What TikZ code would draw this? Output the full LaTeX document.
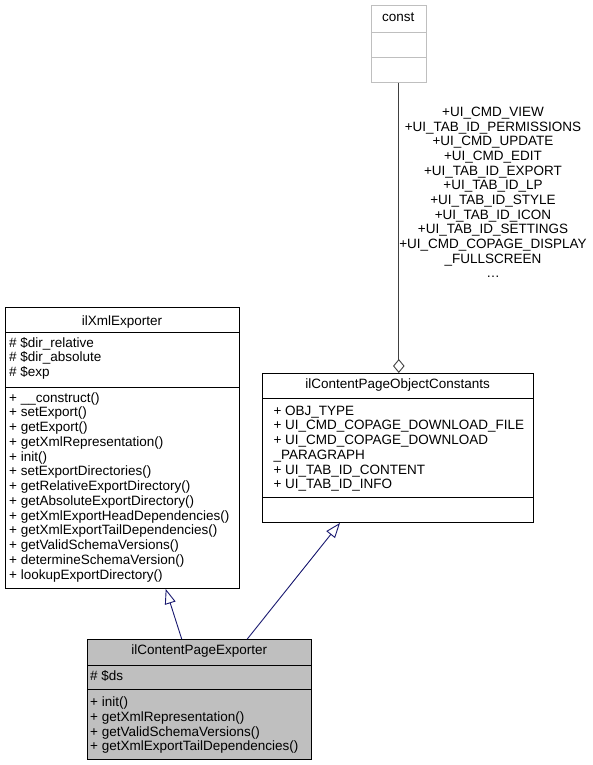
\documentclass[tikz,border=0pt]{standalone}
\usepackage{fontspec}
\setmainfont{Liberation Sans}
\usetikzlibrary{arrows.meta}
\definecolor{edgeblue}{HTML}{191970}
\definecolor{boxgray}{HTML}{BFBFBF}
\definecolor{constgray}{HTML}{BFBFBF}
\definecolor{aggline}{HTML}{404040}
\begin{document}
\begin{tikzpicture}[x=1pt,y=1pt,
  txt/.style={inner sep=0pt, font=\fontsize{13.5}{14.75}\selectfont},
  classbox/.style={draw=black, line width=0.9pt, inner sep=0pt, anchor=north west},
  inh/.style={draw=edgeblue, line width=0.9pt, -{Triangle[open, length=15pt, width=11pt]}},
  agg/.style={draw=aggline, line width=0.9pt, -{Diamond[open, length=14pt, width=11.5pt]}}]
\useasboundingbox (0,0) rectangle (593,-765);
\fill[white] (0,0) rectangle (593,-765);

% const
\node[classbox, draw=constgray, minimum width=54.7pt, minimum height=76.7pt] (const) at (371,-5) {};
\draw[constgray, line width=0.9pt] (const.west |- 0,-32) -- (const.east |- 0,-32);
\draw[constgray, line width=0.9pt] (const.west |- 0,-57) -- (const.east |- 0,-57);
\node[txt, anchor=base] (constt) at (398.3,-22) {const};

% ilXmlExporter
\node[classbox, minimum width=234pt, minimum height=281pt] (xml) at (5,-307) {};
\draw[line width=0.9pt] (xml.west |- 0,-332) -- (xml.east |- 0,-332);
\draw[line width=0.9pt] (xml.west |- 0,-387) -- (xml.east |- 0,-387);
\node[txt, anchor=base] (xmlt) at (122,-325) {ilXmlExporter};
\foreach \t [count=\i] in {{\# \$dir\_relative},{\# \$dir\_absolute},{\# \$exp}}
  \node[txt, anchor=base west] (xa\i) at (9,{-347-14.75*(\i-1)}) {\t};
\foreach \t [count=\i] in {{+ \_\_construct()},{+ setExport()},{+ getExport()},{+ getXmlRepresentation()},{+ init()},{+ setExportDirectories()},{+ getRelativeExportDirectory()},{+ getAbsoluteExportDirectory()},{+ getXmlExportHeadDependencies()},{+ getXmlExportTailDependencies()},{+ getValidSchemaVersions()},{+ determineSchemaVersion()},{+ lookupExportDirectory()}}
  \node[txt, anchor=base west] (xm\i) at (9,{-402-14.75*(\i-1)}) {\t};

% ilContentPageObjectConstants
\node[classbox, minimum width=270.7pt, minimum height=149pt] (cpoc) at (262.3,-373) {};
\draw[line width=0.9pt] (cpoc.west |- 0,-398) -- (cpoc.east |- 0,-398);
\draw[line width=0.9pt] (cpoc.west |- 0,-497) -- (cpoc.east |- 0,-497);
\node[txt, anchor=base] (cpoct) at (397.6,-388) {ilContentPageObjectConstants};
\foreach \t [count=\i] in {{+ OBJ\_TYPE},{+ UI\_CMD\_COPAGE\_DOWNLOAD\_FILE},{+ UI\_CMD\_COPAGE\_DOWNLOAD},{\_PARAGRAPH},{+ UI\_TAB\_ID\_CONTENT},{+ UI\_TAB\_ID\_INFO}}
  \node[txt, anchor=base west] (ca\i) at (273.3,{-415-14.75*(\i-1)}) {\t};

% ilContentPageExporter
\node[classbox, fill=boxgray, minimum width=223.7pt, minimum height=120pt] (cpe) at (87.3,-639) {};
\draw[line width=0.9pt] (cpe.west |- 0,-665) -- (cpe.east |- 0,-665);
\draw[line width=0.9pt] (cpe.west |- 0,-689) -- (cpe.east |- 0,-689);
\node[txt, anchor=base] (cpet) at (199.2,-654) {ilContentPageExporter};
\node[txt, anchor=base west] (pa1) at (90,-680) {\# \$ds};
\foreach \t [count=\i] in {{+ init()},{+ getXmlRepresentation()},{+ getValidSchemaVersions()},{+ getXmlExportTailDependencies()}}
  \node[txt, anchor=base west] (pm\i) at (90,{-706.5-14.75*(\i-1)}) {\t};

% aggregation labels
\foreach \t [count=\i] in {{+UI\_CMD\_VIEW},{+UI\_TAB\_ID\_PERMISSIONS},{+UI\_CMD\_UPDATE},{+UI\_CMD\_EDIT},{+UI\_TAB\_ID\_EXPORT},{+UI\_TAB\_ID\_LP},{+UI\_TAB\_ID\_STYLE},{+UI\_TAB\_ID\_ICON},{+UI\_TAB\_ID\_SETTINGS},{+UI\_CMD\_COPAGE\_DISPLAY},{\_FULLSCREEN}}
  \node[txt, anchor=base] (lab\i) at (493,{-116.7-14.63*(\i-1)}) {\t};
\node[txt, anchor=base] (labdots) at (493,-277.6) {\ldots};

% connectors
\draw[agg] (const.south) -- (const.south |- cpoc.north);
\draw[inh] ([xshift=94.4pt]cpe.north west) -- ([xshift=160.7pt]xml.south west);
\draw[inh] ([xshift=160pt]cpe.north west) -- ([xshift=77.7pt]cpoc.south west);
\end{tikzpicture}
\end{document}
